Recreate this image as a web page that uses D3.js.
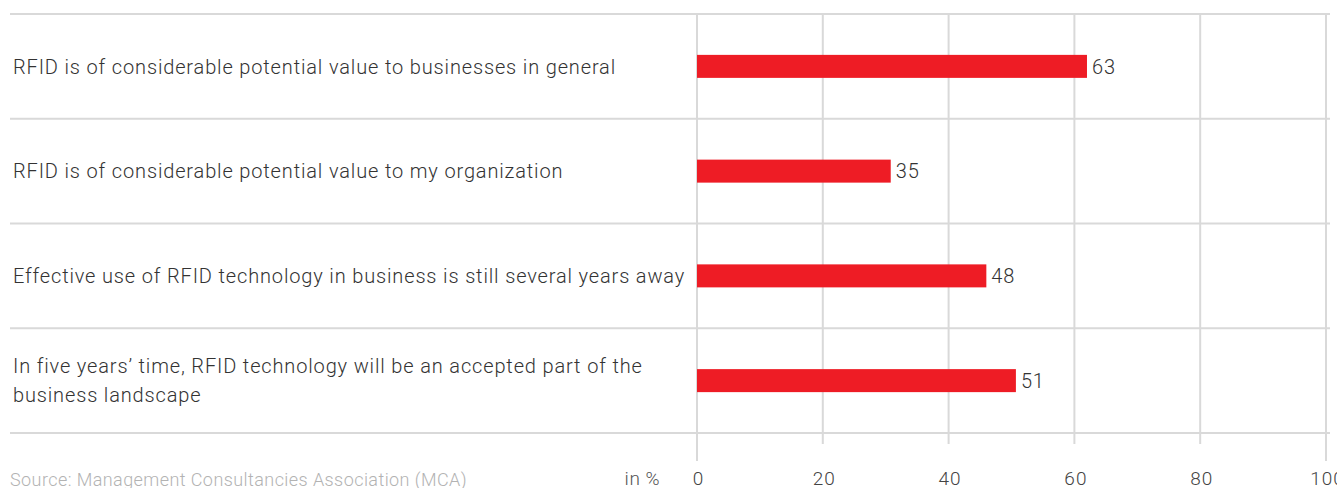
<!DOCTYPE html>
<html>
<head>
<meta charset="utf-8">
<script src="https://cdn.jsdelivr.net/npm/d3@7"></script>
<style>
  html, body { margin: 0; padding: 0; background: #fff; }
  svg { display: block; }
  text { font-family: Roboto, "Liberation Sans", sans-serif; font-weight: 300; }
</style>
</head>
<body>
<svg id="chart" width="1337" height="488"></svg>
<script>
// ---- data ----
const categories = [
  ["RFID is of considerable potential value to businesses in general"],
  ["RFID is of considerable potential value to my organization"],
  ["Effective use of RFID technology in business is still several years away"],
  ["In five years\u2019 time, RFID technology will be an accepted part of the", "business landscape"]
];
const values = [63, 35, 48, 51];            // printed value labels
const barLengths = [62, 30.8, 46, 50.7];    // bar lengths as drawn in the reference
const tickValues = [0, 20, 40, 60, 80, 100];
const unitLabel = "in %";
const sourceText = "Source: Management Consultancies Association (MCA)";

// ---- layout ----
const svg = d3.select("#chart");
const plotTop = 14, plotBottom = 433;
const x = d3.scaleLinear().domain([0, 100]).range([697, 1326]);
const y = d3.scaleBand().domain(d3.range(categories.length)).range([plotTop, plotBottom]);
const barH = 23;
const gridColor = "#d9d9d9";

// helper: letter-spacing so that a text reaches a target width
function fitSpacing(str, size, target) {
  const t = svg.append("text").attr("font-size", size).text(str);
  const w = t.node().getComputedTextLength();
  t.remove();
  return (target - w) / str.length;
}
const labelSize = 20;
const labelLS = fitSpacing(categories[0][0], labelSize, 603);
const valueLS = labelLS;

// vertical gridlines
svg.append("g").selectAll("line").data(tickValues).join("line")
  .attr("x1", d => x(d)).attr("x2", d => x(d))
  .attr("y1", plotTop)
  .attr("y2", d => (d === 0 || d === 100) ? 461 : 444)
  .attr("stroke", gridColor).attr("stroke-width", 2);

// horizontal separators
const seps = d3.range(categories.length + 1).map(i => i < categories.length ? y(i) : plotBottom);
svg.append("g").selectAll("line").data(seps).join("line")
  .attr("x1", 10).attr("x2", 1330)
  .attr("y1", d => d).attr("y2", d => d)
  .attr("stroke", gridColor).attr("stroke-width", 2);

// bars
svg.append("g").selectAll("rect").data(barLengths).join("rect")
  .attr("x", x(0))
  .attr("y", (d, i) => y(i) + y.bandwidth() / 2 - barH / 2)
  .attr("width", d => x(d) - x(0))
  .attr("height", barH)
  .attr("fill", "#ee1c25");

// value labels
svg.append("g").selectAll("text").data(values).join("text")
  .attr("x", (d, i) => x(barLengths[i]) + 5)
  .attr("y", (d, i) => y(i) + y.bandwidth() / 2)
  .attr("dy", "0.36em")
  .attr("font-size", labelSize)
  .attr("letter-spacing", valueLS)
  .attr("fill", "#333")
  .text(d => d);

// category labels
const lineH = 29;
const labG = svg.append("g");
categories.forEach((lines, i) => {
  const cy = y(i) + y.bandwidth() / 2;
  const t = labG.append("text")
    .attr("x", 13)
    .attr("font-size", labelSize)
    .attr("letter-spacing", labelLS)
    .attr("fill", "#333");
  lines.forEach((ln, j) => {
    t.append("tspan")
      .attr("x", 13)
      .attr("y", cy + (j - (lines.length - 1) / 2) * lineH)
      .attr("dy", "0.36em")
      .text(ln);
  });
});

// tick labels
svg.append("g").selectAll("text").data(tickValues).join("text")
  .attr("x", d => x(d) + 1.5)
  .attr("y", 485)
  .attr("text-anchor", "middle")
  .attr("font-size", 19)
  .attr("letter-spacing", 1)
  .attr("fill", "#444")
  .text(d => d);

svg.append("text")
  .attr("x", 660).attr("y", 485)
  .attr("text-anchor", "end")
  .attr("font-size", 19)
  .attr("letter-spacing", 0.5)
  .attr("fill", "#555")
  .text(unitLabel);

const srcLS = fitSpacing(sourceText, 18, 457);
svg.append("text")
  .attr("x", 10).attr("y", 486)
  .attr("font-size", 18)
  .attr("letter-spacing", srcLS)
  .attr("fill", "#b3b3b3")
  .text(sourceText);
</script>
</body>
</html>
